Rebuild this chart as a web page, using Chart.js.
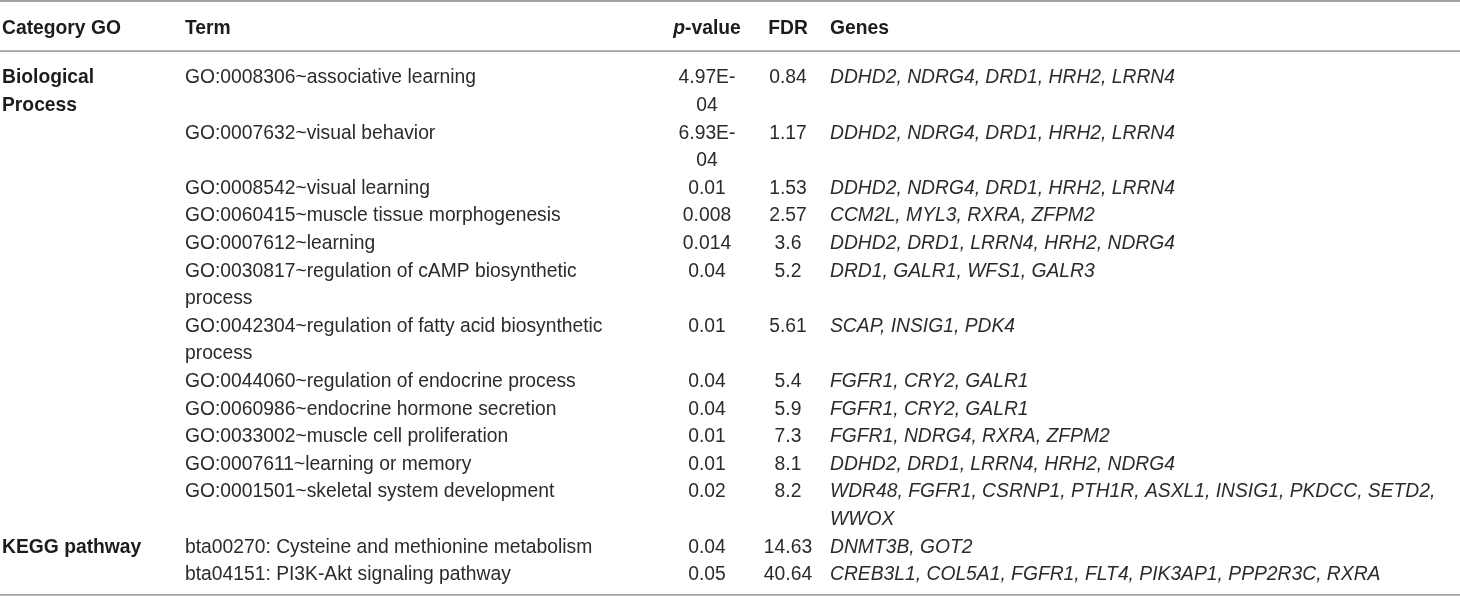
<!DOCTYPE html>
<html>
<head>
<meta charset="utf-8">
<title>Category GO / KEGG</title>
<script src="https://cdn.jsdelivr.net/npm/chart.js@4.4.1/dist/chart.umd.min.js"></script>
<style>
html, body { margin: 0; padding: 0; background: #fff; }
#wrap { width: 1460px; height: 596px; position: relative; }
</style>
</head>
<body>
<div id="wrap"><canvas id="tabela"></canvas></div>
<script>
// cabeçalho da tabela
const headers = ['Category GO', 'Term', 'p-value', 'FDR', 'Genes'];
const headerItalic = ['', '', 'p', '', '']; // parte inicial em itálico

// categorias e a primeira linha de cada uma
const categories = ['Biological\nProcess', 'KEGG pathway'];
const categoryFirstRow = [0, 12];

const terms = [
    'GO:0008306~associative learning',
    'GO:0007632~visual behavior',
    'GO:0008542~visual learning',
    'GO:0060415~muscle tissue morphogenesis',
    'GO:0007612~learning',
    'GO:0030817~regulation of cAMP biosynthetic\nprocess',
    'GO:0042304~regulation of fatty acid biosynthetic\nprocess',
    'GO:0044060~regulation of endocrine process',
    'GO:0060986~endocrine hormone secretion',
    'GO:0033002~muscle cell proliferation',
    'GO:0007611~learning or memory',
    'GO:0001501~skeletal system development',
    'bta00270: Cysteine and methionine metabolism',
    'bta04151: PI3K-Akt signaling pathway'
];

const pValues = ['4.97E-\n04', '6.93E-\n04', '0.01', '0.008', '0.014', '0.04', '0.01',
    '0.04', '0.04', '0.01', '0.01', '0.02', '0.04', '0.05'];

const fdr = [0.84, 1.17, 1.53, 2.57, 3.6, 5.2, 5.61, 5.4, 5.9, 7.3, 8.1, 8.2, 14.63, 40.64];

const genes = [
    'DDHD2, NDRG4, DRD1, HRH2, LRRN4',
    'DDHD2, NDRG4, DRD1, HRH2, LRRN4',
    'DDHD2, NDRG4, DRD1, HRH2, LRRN4',
    'CCM2L, MYL3, RXRA, ZFPM2',
    'DDHD2, DRD1, LRRN4, HRH2, NDRG4',
    'DRD1, GALR1, WFS1, GALR3',
    'SCAP, INSIG1, PDK4',
    'FGFR1, CRY2, GALR1',
    'FGFR1, CRY2, GALR1',
    'FGFR1, NDRG4, RXRA, ZFPM2',
    'DDHD2, DRD1, LRRN4, HRH2, NDRG4',
    'WDR48, FGFR1, CSRNP1, PTH1R, ASXL1, INSIG1, PKDCC, SETD2,\nWWOX',
    'DNMT3B, GOT2',
    'CREB3L1, COL5A1, FGFR1, FLT4, PIK3AP1, PPP2R3C, RXRA'
];

// layout das colunas (unidades do eixo x = pixels da página)
const colX = [2, 185, 707, 788, 830];
const colAlign = ['left', 'left', 'center', 'center', 'left'];
const fontPx = 19.3;
const fontFamily = "'Liberation Sans', Arial, Helvetica, sans-serif";
const linePx = 27.6;     // altura de uma linha de texto
const firstLinePx = 76;  // centro da primeira linha do corpo

// quantas linhas de texto cada linha da tabela ocupa
const nLines = s => String(s).split('\n').length;
const rowLines = terms.map((t, i) => {
    let n = Math.max(nLines(t), nLines(pValues[i]), nLines(genes[i]));
    const c = categoryFirstRow.indexOf(i);
    if (c >= 0) n = Math.max(n, nLines(categories[c]));
    return n;
});
const rowStart = [];
rowLines.reduce((acc, n, i) => { rowStart[i] = acc; return acc + n; }, 0);
const totalLines = rowLines.reduce((a, b) => a + b, 0);

const headerLine = -1.78;

function pontos(col, texts, rows) {
    const out = [];
    texts.forEach((t, k) => {
        String(t).split('\n').forEach((linha, j) => {
            out.push({ x: colX[col], y: rowStart[rows[k]] + j, text: linha, align: colAlign[col] });
        });
    });
    return out;
}

const allRows = terms.map((_, i) => i);

function regra(y, width) {
    return {
        data: [{ x: 0, y: y }, { x: 1460, y: y }],
        showLine: true,
        borderColor: '#a3a3a3',
        borderWidth: width,
        pointRadius: 0
    };
}

const cellText = {
    id: 'cellText',
    afterDatasetsDraw(chart) {
        const ctx = chart.ctx;
        ctx.save();
        ctx.textBaseline = 'alphabetic';
        chart.data.datasets.forEach((ds, i) => {
            if (!ds.cellFont) return;
            const meta = chart.getDatasetMeta(i);
            meta.data.forEach((el, j) => {
                const p = ds.data[j];
                const segs = [];
                if (p.italic) segs.push([p.italic, 'italic ' + ds.cellFont]);
                segs.push([p.text.slice(p.italic ? p.italic.length : 0), ds.cellFont]);
                let w = 0;
                segs.forEach(s => { ctx.font = s[1] + ' ' + fontPx + 'px ' + fontFamily; s.push(ctx.measureText(s[0]).width); w += s[2]; });
                let x = el.x;
                if (p.align === 'center') x -= w / 2;
                else if (p.align === 'right') x -= w;
                ctx.fillStyle = ds.cellColor;
                ctx.textAlign = 'left';
                // linha de base: centro das maiúsculas fica sobre o ponto
                const base = el.y + 0.36 * fontPx + 0.5;
                segs.forEach(s => {
                    ctx.font = s[1] + ' ' + fontPx + 'px ' + fontFamily;
                    ctx.fillText(s[0], x, base);
                    x += s[2];
                });
            });
        });
        ctx.restore();
    }
};

const headerData = headers.map((h, c) => ({ x: colX[c], y: headerLine, text: h, align: colAlign[c], italic: headerItalic[c] }));

const ctx = document.getElementById('tabela').getContext('2d');
const tabela = new Chart(ctx, {
    type: 'scatter',
    data: {
        datasets: [
            regra(-2.72, 2),
            regra(-0.9, 1.6),
            regra(totalLines - 0.2, 1.8),
            { data: headerData, pointRadius: 0, cellFont: 'bold', cellColor: '#1c1c1c' },
            { data: pontos(0, categories, categoryFirstRow), pointRadius: 0, cellFont: 'bold', cellColor: '#1c1c1c' },
            { data: pontos(1, terms, allRows), pointRadius: 0, cellFont: 'normal', cellColor: '#2b2b2b' },
            { data: pontos(2, pValues, allRows), pointRadius: 0, cellFont: 'normal', cellColor: '#2b2b2b' },
            { data: pontos(3, fdr, allRows), pointRadius: 0, cellFont: 'normal', cellColor: '#2b2b2b' },
            { data: pontos(4, genes, allRows), pointRadius: 0, cellFont: 'italic', cellColor: '#2b2b2b' }
        ]
    },
    options: {
        responsive: true,
        maintainAspectRatio: false,
        animation: false,
        events: [],
        layout: { padding: 0 },
        plugins: {
            legend: { display: false },
            tooltip: { enabled: false }
        },
        scales: {
            x: { type: 'linear', display: false, min: 0, max: 1460 },
            y: {
                type: 'linear', display: false, reverse: true,
                min: -firstLinePx / linePx,
                max: (596 - firstLinePx) / linePx
            }
        }
    },
    plugins: [cellText]
});
</script>
</body>
</html>
